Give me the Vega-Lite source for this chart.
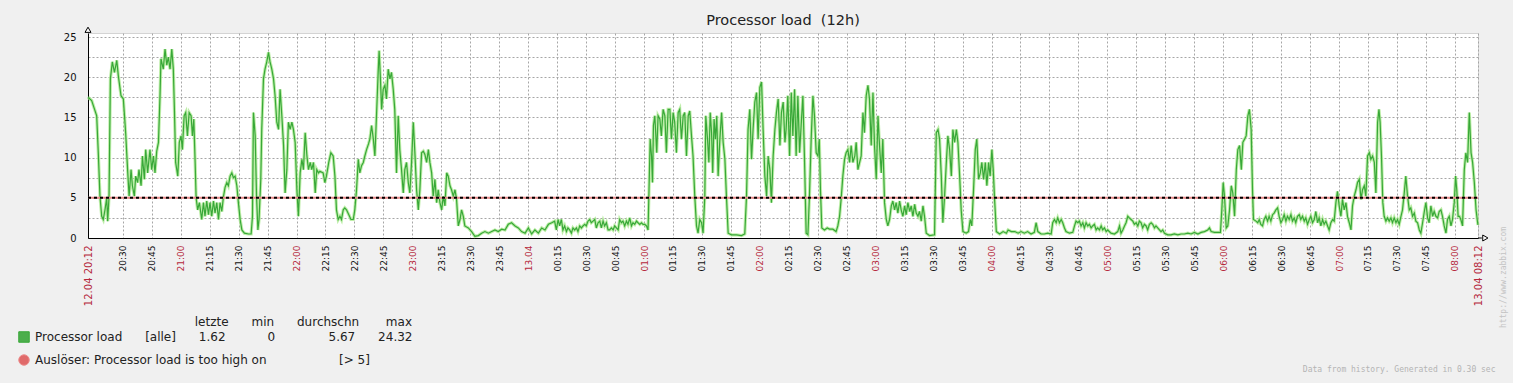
{
  "$schema": "https://vega.github.io/schema/vega-lite/v6.json",
  "autosize": {"type": "none"},
  "width": 1390,
  "height": 205,
  "padding": {"left": 88, "top": 33, "right": 35, "bottom": 145},
  "background": "#f0f0f0",
  "title": {"text": "Processor load\u00a0\u00a0(12h)", "font": "DejaVu Sans", "fontSize": 14.5, "fontWeight": "normal", "color": "#222222", "anchor": "middle", "offset": -3},
  "config": {"view": {"fill": "white", "stroke": "#d4d4d4"}, "font": "DejaVu Sans"},
  "data": {"values": [
    {"m":0,"load":17.5},{"m":1.9,"load":17.1},{"m":4.5,"load":15.2},{"m":5.4,"load":10.2},{"m":6.2,"load":5.2},{"m":7.1,"load":2.7},{"m":7.9,"load":2.3},{"m":8.8,"load":3.5},{"m":9.7,"load":5.0},{"m":10.2,"load":2.1},{"m":10.9,"load":5.2},{"m":11.6,"load":19.8},{"m":12.6,"load":21.9},{"m":13.7,"load":20.6},{"m":14.9,"load":22.1},{"m":15.7,"load":20.2},{"m":17.1,"load":17.7},{"m":18.3,"load":17.3},{"m":18.8,"load":15.6},{"m":19.5,"load":13.1},{"m":20.6,"load":8.1},{"m":21.3,"load":5.2},{"m":22.3,"load":8.5},{"m":23.0,"load":6.5},{"m":24.0,"load":5.2},{"m":24.7,"load":7.7},{"m":25.7,"load":6.9},{"m":26.4,"load":8.5},{"m":27.5,"load":6.5},{"m":28.2,"load":10.2},{"m":29.2,"load":7.3},{"m":29.9,"load":11.0},{"m":30.9,"load":8.1},{"m":32.1,"load":11.0},{"m":33.0,"load":8.5},{"m":33.9,"load":10.2},{"m":34.7,"load":8.1},{"m":35.6,"load":10.8},{"m":36.5,"load":11.9},{"m":37.3,"load":17.7},{"m":37.8,"load":22.3},{"m":39.0,"load":21.0},{"m":39.9,"load":23.5},{"m":40.8,"load":21.5},{"m":41.6,"load":22.5},{"m":42.5,"load":21.0},{"m":43.4,"load":23.5},{"m":44.2,"load":21.0},{"m":44.8,"load":15.6},{"m":45.4,"load":9.4},{"m":46.5,"load":7.7},{"m":47.3,"load":11.9},{"m":48.2,"load":12.7},{"m":48.9,"load":11.0},{"m":49.8,"load":15.2},{"m":50.6,"load":15.6},{"m":51.5,"load":12.7},{"m":52.4,"load":15.6},{"m":53.4,"load":15.2},{"m":54.1,"load":12.7},{"m":54.8,"load":14.8},{"m":55.5,"load":9.4},{"m":56.0,"load":5.0},{"m":56.8,"load":3.5},{"m":57.7,"load":4.4},{"m":58.9,"load":2.3},{"m":59.8,"load":4.4},{"m":60.6,"load":2.7},{"m":61.5,"load":4.6},{"m":62.4,"load":2.9},{"m":63.2,"load":4.4},{"m":64.1,"load":2.7},{"m":65.0,"load":4.6},{"m":65.8,"load":3.1},{"m":66.7,"load":4.4},{"m":67.6,"load":2.3},{"m":68.4,"load":4.4},{"m":69.3,"load":3.3},{"m":70.2,"load":5.2},{"m":71.0,"load":6.3},{"m":71.9,"load":6.9},{"m":72.7,"load":6.5},{"m":73.6,"load":7.7},{"m":74.5,"load":8.1},{"m":75.3,"load":7.5},{"m":76.2,"load":7.7},{"m":77.1,"load":6.5},{"m":77.9,"load":4.4},{"m":78.8,"load":2.3},{"m":79.7,"load":1.0},{"m":81.0,"load":0.6},{"m":83.1,"load":0.5},{"m":84.5,"load":0.5},{"m":85.2,"load":2.7},{"m":85.7,"load":15.6},{"m":86.6,"load":12.7},{"m":87.3,"load":5.2},{"m":88.0,"load":1.0},{"m":88.6,"load":2.3},{"m":89.5,"load":7.3},{"m":90.0,"load":13.5},{"m":90.9,"load":19.8},{"m":91.7,"load":21.0},{"m":92.6,"load":21.9},{"m":93.5,"load":23.1},{"m":94.3,"load":21.9},{"m":95.2,"load":21.0},{"m":96.1,"load":19.8},{"m":96.9,"load":17.7},{"m":97.8,"load":14.4},{"m":98.7,"load":13.5},{"m":99.5,"load":18.5},{"m":100.4,"load":15.2},{"m":101.3,"load":11.5},{"m":102.1,"load":5.6},{"m":103.0,"load":8.5},{"m":103.8,"load":14.4},{"m":104.7,"load":13.5},{"m":105.6,"load":14.4},{"m":106.4,"load":13.5},{"m":107.3,"load":11.9},{"m":108.2,"load":6.0},{"m":109.0,"load":2.7},{"m":109.9,"load":8.1},{"m":110.8,"load":9.8},{"m":111.6,"load":8.5},{"m":112.5,"load":13.1},{"m":113.4,"load":10.2},{"m":114.2,"load":8.5},{"m":115.1,"load":9.4},{"m":115.9,"load":8.5},{"m":116.8,"load":9.4},{"m":117.7,"load":5.6},{"m":118.5,"load":8.5},{"m":119.4,"load":8.1},
    {"m":120.1,"load":8.3},{"m":121.8,"load":8.1},{"m":122.7,"load":6.9},{"m":123.5,"load":7.7},{"m":124.7,"load":9.4},{"m":125.8,"load":10.6},{"m":127.0,"load":10.2},{"m":127.9,"load":7.7},{"m":128.7,"load":3.5},{"m":129.6,"load":2.3},{"m":130.5,"load":2.7},{"m":131.3,"load":2.3},{"m":132.2,"load":3.5},{"m":133.0,"load":3.75},{"m":133.9,"load":3.5},{"m":135.1,"load":2.9},{"m":136.2,"load":2.3},{"m":137.4,"load":2.3},{"m":138.2,"load":3.5},{"m":139.1,"load":6.0},{"m":140.0,"load":9.8},{"m":140.8,"load":8.1},{"m":141.7,"load":9.0},{"m":142.6,"load":9.4},{"m":143.4,"load":10.2},{"m":144.3,"load":11.0},{"m":145.3,"load":11.7},{"m":146.0,"load":12.3},{"m":146.9,"load":14.0},{"m":147.8,"load":12.3},{"m":148.6,"load":10.2},{"m":149.5,"load":15.6},{"m":150.3,"load":20.6},{"m":150.8,"load":23.3},{"m":151.4,"load":20.2},{"m":152.1,"load":16.0},{"m":152.9,"load":18.5},{"m":153.8,"load":19.0},{"m":154.6,"load":17.3},{"m":155.5,"load":21.0},{"m":156.4,"load":19.8},{"m":157.2,"load":20.6},{"m":158.1,"load":18.5},{"m":158.9,"load":16.0},{"m":159.8,"load":8.1},{"m":160.7,"load":15.2},{"m":161.5,"load":11.0},{"m":162.4,"load":8.5},{"m":163.3,"load":5.6},{"m":164.1,"load":8.5},{"m":165.0,"load":9.4},{"m":165.9,"load":6.9},{"m":166.7,"load":5.6},{"m":167.6,"load":9.4},{"m":168.5,"load":14.4},{"m":169.4,"load":10.2},{"m":170.2,"load":6.0},{"m":171.1,"load":3.5},{"m":171.9,"load":6.0},{"m":172.8,"load":10.6},{"m":173.7,"load":10.8},{"m":174.5,"load":10.4},{"m":175.4,"load":9.4},{"m":176.3,"load":11.0},{"m":177.1,"load":9.4},{"m":178.0,"load":8.1},{"m":178.8,"load":5.2},{"m":179.7,"load":7.3},{"m":180.6,"load":4.4},{"m":181.4,"load":6.0},{"m":182.3,"load":4.4},{"m":183.2,"load":3.5},{"m":184.0,"load":5.2},{"m":184.9,"load":4.0},{"m":185.8,"load":8.1},{"m":186.6,"load":7.7},{"m":187.5,"load":6.5},{"m":188.3,"load":6.0},{"m":189.2,"load":5.2},{"m":190.1,"load":6.0},{"m":190.9,"load":4.8},{"m":191.8,"load":1.5},{"m":192.7,"load":2.3},{"m":193.5,"load":3.5},{"m":194.4,"load":2.7},{"m":195.2,"load":1.5},{"m":197.0,"load":1.25},{"m":198.7,"load":0.8},{"m":200.4,"load":0.2},{"m":202.2,"load":0.3},{"m":203.9,"load":0.6},{"m":205.6,"load":0.8},{"m":207.4,"load":0.6},{"m":209.1,"load":0.8},{"m":210.8,"load":1.0},{"m":212.5,"load":0.8},{"m":214.3,"load":1.1},{"m":216.0,"load":1.0},{"m":217.7,"load":1.7},{"m":219.4,"load":1.9},{"m":221.2,"load":1.5},{"m":222.9,"load":1.25},{"m":224.6,"load":0.8},{"m":226.4,"load":0.6},{"m":228.1,"load":1.25},{"m":229.8,"load":0.5},{"m":231.5,"load":1.0},{"m":233.3,"load":0.6},{"m":235.0,"load":1.25},{"m":236.7,"load":1.0},{"m":238.5,"load":1.7},{"m":240.2,"load":1.9},
    {"m":241.7,"load":2.1},{"m":242.6,"load":1.0},{"m":243.5,"load":2.3},{"m":244.3,"load":1.5},{"m":245.2,"load":2.3},{"m":246.0,"load":1.0},{"m":246.9,"load":1.5},{"m":247.8,"load":0.8},{"m":248.6,"load":1.25},{"m":249.5,"load":1.0},{"m":250.4,"load":0.6},{"m":251.2,"load":1.25},{"m":252.1,"load":1.0},{"m":253.0,"load":1.25},{"m":253.8,"load":0.8},{"m":254.7,"load":1.5},{"m":255.6,"load":1.25},{"m":256.4,"load":1.5},{"m":257.3,"load":1.7},{"m":258.1,"load":1.5},{"m":259.0,"load":2.1},{"m":259.9,"load":2.3},{"m":260.7,"load":1.9},{"m":261.6,"load":2.1},{"m":262.5,"load":2.3},{"m":263.3,"load":1.25},{"m":264.2,"load":1.9},{"m":265.1,"load":2.1},{"m":265.9,"load":1.25},{"m":266.8,"load":2.1},{"m":267.6,"load":1.5},{"m":268.5,"load":1.9},{"m":269.4,"load":1.0},{"m":270.2,"load":1.0},{"m":271.1,"load":1.25},{"m":272.0,"load":1.0},{"m":272.8,"load":1.5},{"m":273.7,"load":1.25},{"m":274.6,"load":1.0},{"m":275.4,"load":2.3},{"m":276.3,"load":1.9},{"m":277.1,"load":2.1},{"m":278.0,"load":1.5},{"m":278.9,"load":2.1},{"m":279.7,"load":1.7},{"m":280.6,"load":2.5},{"m":281.5,"load":1.5},{"m":282.3,"load":1.9},{"m":283.2,"load":1.7},{"m":284.1,"load":2.1},{"m":284.9,"load":1.9},{"m":285.8,"load":1.7},{"m":286.7,"load":1.9},{"m":287.5,"load":1.7},{"m":288.4,"load":1.7},{"m":289.3,"load":1.5},{"m":290.1,"load":1.0},{"m":290.6,"load":6.0},{"m":291.2,"load":12.3},{"m":291.9,"load":10.2},{"m":292.4,"load":6.9},{"m":292.9,"load":14.0},{"m":293.6,"load":15.2},{"m":294.6,"load":10.6},{"m":295.3,"load":15.2},{"m":296.2,"load":14.8},{"m":297.0,"load":12.7},{"m":297.9,"load":16.0},{"m":298.8,"load":15.2},{"m":299.6,"load":10.6},{"m":300.5,"load":16.0},{"m":301.4,"load":16.0},{"m":302.2,"load":12.3},{"m":303.1,"load":15.6},{"m":303.9,"load":14.4},{"m":304.8,"load":10.6},{"m":305.7,"load":15.6},{"m":306.5,"load":16.0},{"m":307.4,"load":12.3},{"m":308.3,"load":15.2},{"m":309.1,"load":15.6},{"m":310.0,"load":10.2},{"m":310.9,"load":15.2},{"m":311.7,"load":15.8},{"m":312.6,"load":12.7},{"m":313.4,"load":10.2},{"m":314.3,"load":5.2},{"m":315.2,"load":1.5},{"m":316.0,"load":0.6},{"m":316.9,"load":2.3},{"m":317.8,"load":1.9},{"m":318.6,"load":0.6},{"m":319.5,"load":5.2},{"m":320.0,"load":15.2},{"m":320.9,"load":12.3},{"m":321.6,"load":9.4},{"m":322.3,"load":15.6},{"m":323.0,"load":13.1},{"m":323.6,"load":8.1},{"m":324.3,"load":14.8},{"m":325.0,"load":12.3},{"m":325.7,"load":15.2},{"m":326.4,"load":7.7},{"m":327.3,"load":12.3},{"m":328.2,"load":15.6},{"m":329.0,"load":11.9},{"m":329.9,"load":9.8},{"m":330.7,"load":5.2},{"m":331.6,"load":0.6},{"m":333.3,"load":0.4},{"m":335.9,"load":0.4},{"m":338.5,"load":0.3},{"m":340.2,"load":0.5},{"m":341.1,"load":5.2},{"m":341.9,"load":13.5},{"m":342.8,"load":16.0},{"m":343.7,"load":9.8},{"m":344.5,"load":13.5},{"m":345.4,"load":16.9},{"m":346.3,"load":18.1},{"m":347.1,"load":12.3},{"m":348.0,"load":18.75},{"m":348.9,"load":19.4},{"m":349.7,"load":13.5},{"m":350.6,"load":7.7},{"m":351.5,"load":5.2},{"m":352.3,"load":10.2},{"m":353.2,"load":8.5},{"m":354.0,"load":4.4},{"m":354.9,"load":10.2},{"m":355.8,"load":13.5},{"m":356.6,"load":15.6},{"m":357.5,"load":17.3},{"m":358.4,"load":11.5},{"m":359.2,"load":15.6},{"m":360.1,"load":16.9},{"m":361.0,"load":11.9},
    {"m":361.6,"load":13.5},{"m":362.5,"load":17.7},{"m":363.4,"load":10.2},{"m":364.3,"load":18.1},{"m":365.1,"load":12.7},{"m":366.0,"load":18.5},{"m":366.8,"load":10.2},{"m":367.7,"load":17.7},{"m":368.6,"load":10.6},{"m":369.4,"load":14.0},{"m":370.3,"load":17.7},{"m":371.1,"load":10.2},{"m":372.0,"load":0.6},{"m":372.9,"load":0.4},{"m":373.7,"load":5.2},{"m":374.6,"load":12.3},{"m":375.5,"load":17.7},{"m":376.3,"load":15.2},{"m":377.2,"load":10.6},{"m":378.1,"load":10.2},{"m":378.8,"load":12.3},{"m":379.4,"load":6.0},{"m":380.1,"load":1.25},{"m":381.5,"load":1.0},{"m":382.9,"load":1.25},{"m":384.1,"load":1.1},{"m":385.8,"load":1.1},{"m":387.5,"load":0.8},{"m":388.4,"load":1.5},{"m":389.3,"load":2.7},{"m":390.1,"load":4.8},{"m":391.0,"load":7.7},{"m":391.9,"load":9.8},{"m":392.7,"load":10.6},{"m":393.6,"load":11.0},{"m":394.5,"load":9.4},{"m":395.3,"load":11.5},{"m":396.2,"load":9.4},{"m":397.2,"load":10.2},{"m":397.9,"load":11.9},{"m":398.8,"load":8.5},{"m":399.7,"load":9.4},{"m":400.5,"load":10.2},{"m":401.4,"load":15.6},{"m":402.2,"load":13.1},{"m":403.1,"load":17.7},{"m":404.0,"load":19.0},{"m":404.8,"load":17.3},{"m":405.7,"load":11.5},{"m":406.6,"load":18.1},{"m":407.4,"load":11.5},{"m":408.3,"load":7.3},{"m":409.2,"load":15.2},{"m":410.0,"load":11.5},{"m":410.9,"load":8.1},{"m":411.7,"load":12.3},{"m":412.6,"load":4.4},{"m":413.5,"load":2.3},{"m":414.3,"load":1.5},{"m":415.2,"load":2.3},{"m":416.1,"load":4.0},{"m":416.9,"load":4.6},{"m":417.8,"load":3.5},{"m":418.6,"load":4.4},{"m":419.5,"load":3.1},{"m":420.4,"load":4.6},{"m":421.2,"load":3.5},{"m":422.1,"load":2.7},{"m":423.0,"load":4.0},{"m":423.8,"load":2.9},{"m":424.7,"load":4.4},{"m":425.6,"load":3.3},{"m":426.4,"load":4.0},{"m":427.3,"load":2.7},{"m":428.2,"load":4.2},{"m":429.0,"load":3.1},{"m":429.9,"load":2.7},{"m":430.7,"load":3.3},{"m":431.6,"load":2.1},{"m":432.5,"load":4.0},{"m":433.3,"load":2.7},{"m":434.2,"load":0.6},{"m":435.9,"load":0.3},{"m":438.5,"load":0.4},{"m":439.4,"load":13.1},{"m":440.3,"load":13.5},{"m":441.1,"load":12.3},{"m":442.0,"load":7.7},{"m":442.8,"load":1.9},{"m":443.7,"load":5.2},{"m":444.6,"load":9.4},{"m":445.4,"load":12.7},{"m":446.3,"load":11.0},{"m":447.2,"load":7.7},{"m":448.0,"load":13.5},{"m":448.9,"load":11.9},{"m":449.8,"load":13.5},{"m":450.6,"load":11.9},{"m":451.5,"load":7.7},{"m":452.3,"load":3.5},{"m":453.2,"load":0.8},{"m":454.9,"load":0.6},{"m":456.1,"load":0.8},{"m":457.0,"load":2.3},{"m":457.8,"load":1.5},{"m":458.7,"load":6.0},{"m":459.6,"load":11.0},{"m":460.4,"load":12.3},{"m":461.3,"load":7.3},{"m":462.2,"load":8.1},{"m":463.0,"load":9.4},{"m":463.9,"load":7.3},{"m":464.8,"load":9.4},{"m":465.6,"load":6.5},{"m":466.5,"load":9.4},{"m":467.3,"load":7.7},{"m":468.2,"load":11.0},{"m":468.9,"load":8.5},{"m":469.6,"load":4.8},{"m":470.5,"load":0.8},{"m":472.2,"load":0.5},{"m":474.0,"load":0.8},{"m":475.7,"load":0.6},{"m":476.6,"load":1.0},{"m":478.3,"load":0.8},{"m":480.1,"load":0.8},{"m":481.8,"load":0.6},
    {"m":483.3,"load":0.8},{"m":485.0,"load":0.6},{"m":486.7,"load":0.8},{"m":488.5,"load":0.5},{"m":490.2,"load":0.7},{"m":491.1,"load":1.9},{"m":492.0,"load":0.8},{"m":493.7,"load":0.5},{"m":495.4,"load":0.5},{"m":497.1,"load":0.6},{"m":498.9,"load":0.5},{"m":499.7,"load":1.9},{"m":500.6,"load":2.3},{"m":501.5,"load":1.9},{"m":502.3,"load":2.5},{"m":503.2,"load":1.9},{"m":504.1,"load":2.3},{"m":504.9,"load":1.9},{"m":505.8,"load":1.25},{"m":506.6,"load":0.8},{"m":508.4,"load":0.6},{"m":510.1,"load":0.7},{"m":511.0,"load":1.5},{"m":511.8,"load":2.1},{"m":512.7,"load":1.9},{"m":513.5,"load":2.1},{"m":514.4,"load":1.5},{"m":515.3,"load":1.9},{"m":516.1,"load":1.25},{"m":517.0,"load":1.9},{"m":517.9,"load":1.5},{"m":518.7,"load":1.7},{"m":519.6,"load":1.25},{"m":520.4,"load":1.5},{"m":521.3,"load":1.7},{"m":522.2,"load":1.0},{"m":523.0,"load":1.25},{"m":523.9,"load":1.0},{"m":524.8,"load":1.5},{"m":525.6,"load":1.0},{"m":526.5,"load":1.25},{"m":527.4,"load":0.8},{"m":528.2,"load":1.0},{"m":529.9,"load":0.6},{"m":531.7,"load":0.5},{"m":533.4,"load":0.8},{"m":534.3,"load":1.5},{"m":535.1,"load":0.6},{"m":536.0,"load":1.0},{"m":536.9,"load":1.5},{"m":537.7,"load":1.9},{"m":538.6,"load":2.7},{"m":539.4,"load":2.5},{"m":540.3,"load":2.3},{"m":541.2,"load":2.1},{"m":542.0,"load":1.7},{"m":542.9,"load":1.9},{"m":543.8,"load":1.5},{"m":544.6,"load":2.1},{"m":545.5,"load":1.9},{"m":546.3,"load":1.25},{"m":547.2,"load":1.7},{"m":548.1,"load":1.5},{"m":548.9,"load":1.0},{"m":549.8,"load":1.7},{"m":550.7,"load":1.9},{"m":551.5,"load":1.7},{"m":552.4,"load":1.25},{"m":553.2,"load":1.5},{"m":554.1,"load":1.25},{"m":555.0,"load":1.0},{"m":555.8,"load":0.8},{"m":556.7,"load":1.0},{"m":557.6,"load":0.6},{"m":559.3,"load":0.4},{"m":561.0,"load":0.4},{"m":562.7,"load":0.5},{"m":564.5,"load":0.4},{"m":566.2,"load":0.5},{"m":567.9,"load":0.5},{"m":569.7,"load":0.6},{"m":571.4,"load":0.5},{"m":573.1,"load":0.7},{"m":574.9,"load":0.5},{"m":576.6,"load":0.7},{"m":578.3,"load":0.8},{"m":580.0,"load":1.0},{"m":580.9,"load":1.25},{"m":581.8,"load":0.8},{"m":583.5,"load":0.7},{"m":585.2,"load":0.7},{"m":586.6,"load":0.7},{"m":587.3,"load":3.5},{"m":588.0,"load":6.9},{"m":588.7,"load":5.2},{"m":589.6,"load":1.25},{"m":590.4,"load":1.5},{"m":591.3,"load":3.5},{"m":592.2,"load":6.5},{"m":593.0,"load":5.6},{"m":593.9,"load":2.7},{"m":594.8,"load":8.5},{"m":595.6,"load":11.0},{"m":596.5,"load":11.5},{"m":597.4,"load":8.5},{"m":598.2,"load":11.9},{"m":599.1,"load":12.3},{"m":599.9,"load":12.7},{"m":600.8,"load":15.2},{"m":601.6,"load":16.0},{"m":602.5,"load":13.5},
    {"m":603.2,"load":6.0},{"m":603.7,"load":2.3},{"m":605.0,"load":2.1},{"m":605.9,"load":1.9},{"m":606.7,"load":2.3},{"m":607.5,"load":1.7},{"m":608.4,"load":1.5},{"m":609.2,"load":2.3},{"m":610.1,"load":2.7},{"m":611.0,"load":2.1},{"m":611.8,"load":2.7},{"m":612.7,"load":2.1},{"m":613.6,"load":2.9},{"m":614.4,"load":3.1},{"m":615.3,"load":3.5},{"m":616.2,"load":3.75},{"m":617.0,"load":2.7},{"m":617.9,"load":1.9},{"m":618.8,"load":2.3},{"m":619.6,"load":2.9},{"m":620.5,"load":2.1},{"m":621.3,"load":2.7},{"m":622.2,"load":2.3},{"m":623.1,"load":2.9},{"m":623.9,"load":2.1},{"m":624.8,"load":2.5},{"m":625.6,"load":1.9},{"m":626.5,"load":2.7},{"m":627.4,"load":2.9},{"m":628.2,"load":2.3},{"m":629.1,"load":2.7},{"m":630.0,"load":2.1},{"m":630.8,"load":2.5},{"m":631.7,"load":1.7},{"m":632.6,"load":2.3},{"m":633.4,"load":2.7},{"m":634.3,"load":1.9},{"m":635.2,"load":2.3},{"m":636.0,"load":3.3},{"m":636.9,"load":1.9},{"m":637.7,"load":2.5},{"m":638.6,"load":1.5},{"m":639.5,"load":2.3},{"m":640.3,"load":1.7},{"m":641.2,"load":2.1},{"m":642.1,"load":1.5},{"m":642.9,"load":1.0},{"m":643.8,"load":1.9},{"m":644.7,"load":2.3},{"m":645.5,"load":2.1},{"m":646.4,"load":4.4},{"m":647.2,"load":5.8},{"m":648.1,"load":4.0},{"m":649.0,"load":2.7},{"m":649.8,"load":4.8},{"m":650.7,"load":3.5},{"m":651.6,"load":4.4},{"m":652.4,"load":2.7},{"m":653.3,"load":1.9},{"m":654.2,"load":1.0},{"m":655.0,"load":4.0},{"m":655.9,"load":5.2},{"m":656.8,"load":6.0},{"m":657.6,"load":6.9},{"m":658.5,"load":7.3},{"m":659.4,"load":4.8},{"m":660.2,"load":6.0},{"m":661.1,"load":6.5},{"m":661.9,"load":5.2},{"m":662.8,"load":10.2},{"m":663.7,"load":10.6},{"m":664.5,"load":9.8},{"m":665.4,"load":10.2},{"m":666.3,"load":9.4},{"m":667.1,"load":5.6},{"m":668.0,"load":14.4},{"m":668.7,"load":16.0},{"m":669.3,"load":14.4},{"m":670.0,"load":10.2},{"m":670.7,"load":4.4},{"m":671.4,"load":2.7},{"m":672.3,"load":2.1},{"m":673.1,"load":2.5},{"m":674.0,"load":2.1},{"m":674.9,"load":2.5},{"m":675.7,"load":1.9},{"m":676.6,"load":2.5},{"m":677.5,"load":1.9},{"m":678.3,"load":2.3},{"m":679.2,"load":1.7},{"m":680.1,"load":2.7},{"m":680.9,"load":3.5},{"m":681.8,"load":5.6},{"m":682.6,"load":7.7},{"m":683.5,"load":5.2},{"m":684.4,"load":3.5},{"m":685.2,"load":3.75},{"m":686.1,"load":2.7},{"m":687.0,"load":3.1},{"m":687.8,"load":2.1},{"m":688.7,"load":1.9},{"m":689.6,"load":1.0},{"m":690.4,"load":0.6},{"m":691.3,"load":1.9},{"m":692.2,"load":3.3},{"m":693.0,"load":4.4},{"m":693.9,"load":2.5},{"m":694.7,"load":1.9},{"m":695.6,"load":4.0},{"m":696.5,"load":2.7},{"m":697.3,"load":3.3},{"m":698.2,"load":2.7},{"m":699.1,"load":2.5},{"m":699.9,"load":3.3},{"m":700.8,"load":3.5},{"m":701.6,"load":2.7},{"m":702.5,"load":1.5},{"m":703.4,"load":0.6},{"m":704.2,"load":2.3},{"m":705.1,"load":2.7},{"m":706.0,"load":1.5},{"m":706.8,"load":2.3},{"m":707.7,"load":4.4},{"m":708.4,"load":7.7},{"m":709.0,"load":6.0},{"m":709.7,"load":2.7},{"m":710.4,"load":2.7},{"m":711.1,"load":2.3},{"m":712.0,"load":1.5},{"m":712.9,"load":8.5},{"m":713.7,"load":10.6},{"m":714.6,"load":9.4},{"m":715.5,"load":15.6},{"m":716.4,"load":10.6},{"m":717.2,"load":9.4},{"m":718.1,"load":6.9},{"m":719.0,"load":3.5},{"m":719.8,"load":1.9},{"m":720,"load":1.62}
  ]},
  "encoding": {
    "x": {"field": "m", "type": "quantitative", "scale": {"domain": [0, 720], "nice": false, "zero": false},
      "axis": {
        "values": [0,18,33,48,63,78,93,108,123,138,153,168,183,198,213,228,243,258,273,288,303,318,333,348,363,378,393,408,423,438,453,468,483,498,513,528,543,558,573,588,603,618,633,648,663,678,693,708,720],
        "labelExpr": "datum.value == 0 ? '12.04 20:12' : datum.value == 720 ? '13.04 08:12' : datum.value == 228 ? '13.04' : (floor(((datum.value + 1212) % 1440) / 60) < 10 ? '0' : '') + floor(((datum.value + 1212) % 1440) / 60) + ':' + ((datum.value + 12) % 60 < 10 ? '0' : '') + ((datum.value + 12) % 60)",
        "labelAngle": 270, "labelFont": "DejaVu Sans",
        "labelFontSize": {"condition": {"test": "datum.value == 0 || datum.value == 720", "value": 10}, "value": 9},
        "labelColor": {"condition": {"test": "datum.value == 0 || datum.value == 720 || (datum.value + 12) % 60 == 0", "value": "#b5283c"}, "value": "#111111"},
        "labelPadding": 7, "ticks": false, "tickSize": 0, "labelOverlap": false, "labelFlush": false, "labelBound": false,
        "domainColor": "#000000", "domainWidth": 1,
        "grid": true, "gridColor": "#a6a6a6", "gridDash": [2, 2], "gridWidth": 1,
        "title": "Data from history. Generated in 0.30 sec", "titleFont": "DejaVu Sans Mono", "titleFontSize": 8, "titleFontWeight": "normal", "titleColor": "#b4b4b4",
        "titleX": 1407, "titleY": 131, "titleAlign": "right", "titleBaseline": "middle", "titleAnchor": "end"
      }
    },
    "y": {"field": "load", "type": "quantitative", "scale": {"domain": [0, 25.5], "nice": false, "zero": false},
      "axis": {
        "values": [0, 2.5, 5, 7.5, 10, 12.5, 15, 17.5, 20, 22.5, 25],
        "labelExpr": "datum.value % 5 == 0 ? datum.label : ''",
        "labelFont": "DejaVu Sans", "labelFontSize": 10, "labelColor": "#111111", "labelPadding": 12,
        "ticks": false, "tickSize": 0, "domainColor": "#000000", "domainWidth": 1,
        "grid": true, "gridColor": "#a6a6a6", "gridDash": [2, 2], "gridWidth": 1,
        "title": "http://www.zabbix.com", "titleFont": "DejaVu Sans Mono", "titleFontSize": 8, "titleFontWeight": "normal", "titleColor": "#c4c4c4",
        "titleAngle": 270, "titleX": 1415, "titleY": 244, "titleAlign": "center", "titleBaseline": "middle"
      }
    }
  },
  "layer": [
    {
      "mark": {"type": "line", "color": "#a8e88c", "strokeWidth": 3.2, "opacity": 0.75}
    },
    {
      "mark": {"type": "line", "strokeWidth": 1.2},
      "encoding": {
        "color": {"datum": "Processor load",
          "scale": {"domain": ["Processor load", "Auslöser"], "range": ["#38a838", "#ec8c8c"]},
          "legend": {
            "orient": "none", "legendX": -70, "legendY": 284, "direction": "vertical", "padding": 0,
            "title": "letzte\u00a0\u00a0\u00a0\u00a0\u00a0\u00a0min\u00a0\u00a0\u00a0\u00a0\u00a0\u00a0durchschn\u00a0\u00a0\u00a0\u00a0\u00a0\u00a0\u00a0max",
            "titleAnchor": "end", "titleFont": "DejaVu Sans", "titleFontSize": 12, "titleFontWeight": "normal", "titleColor": "#222222", "titlePadding": 2, "titleLimit": 1000,
            "labelFont": "DejaVu Sans", "labelFontSize": 12, "labelColor": "#222222", "labelLimit": 0, "labelOffset": 5,
            "symbolSize": 110, "rowPadding": 7,
            "labelExpr": "datum.value == 'Processor load' ? 'Processor load\u00a0\u00a0\u00a0\u00a0\u00a0\u00a0[alle]\u00a0\u00a0\u00a0\u00a0\u00a0\u00a01.62\u00a0\u00a0\u00a0\u00a0\u00a0\u00a0\u00a0\u00a0\u00a0\u00a0\u00a00\u00a0\u00a0\u00a0\u00a0\u00a0\u00a0\u00a0\u00a0\u00a0\u00a0\u00a0\u00a0\u00a0\u00a05.67\u00a0\u00a0\u00a0\u00a0\u00a0\u00a024.32' : 'Auslöser: Processor load is too high on\u00a0\u00a0\u00a0\u00a0\u00a0\u00a0\u00a0\u00a0\u00a0\u00a0\u00a0\u00a0\u00a0\u00a0\u00a0\u00a0\u00a0\u00a0\u00a0[> 5]'",
            "encode": {"symbols": {"update": {
              "shape": {"signal": "datum.value === 'Processor load' ? 'square' : 'circle'"},
              "fill": {"signal": "datum.value === 'Processor load' ? '#4cae4c' : '#e06a6a'"},
              "stroke": {"value": "#2a2a2a"}, "strokeWidth": {"value": 1}, "opacity": {"value": 1}, "fillOpacity": {"value": 1}, "strokeDash": {"value": []}
            }}}
          }
        }
      }
    },
    {
      "data": {"values": [{"m": 0, "load": 5}, {"m": 720, "load": 5}]},
      "mark": {"type": "line", "strokeWidth": 2},
      "encoding": {
        "color": {"datum": "Auslöser"}
      }
    },
    {
      "data": {"values": [{"m": 0, "load": 5}, {"m": 720, "load": 5}]},
      "mark": {"type": "line", "color": "#000000", "strokeWidth": 2, "strokeDash": [3, 3]}
    },
    {
      "data": {"values": [{"m": 720, "load": 0}, {"m": 722, "load": 0}]},
      "mark": {"type": "line", "color": "#000000", "strokeWidth": 1}
    },
    {
      "data": {"values": [{"m": 0, "load": 25.9}]},
      "mark": {"type": "point", "shape": "triangle-up", "size": 36, "filled": true, "fill": "white", "stroke": "#000000", "strokeWidth": 1, "opacity": 1}
    },
    {
      "data": {"values": [{"m": 723.8, "load": 0}]},
      "mark": {"type": "point", "shape": "triangle-right", "size": 36, "filled": true, "fill": "white", "stroke": "#000000", "strokeWidth": 1, "opacity": 1}
    }
  ]
}
